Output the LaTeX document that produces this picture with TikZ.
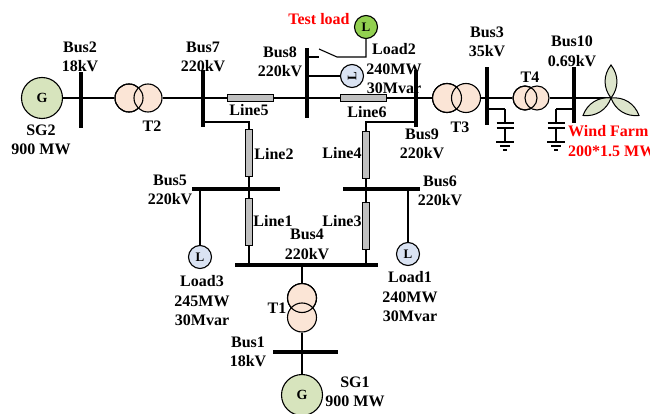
\documentclass[tikz,border=0pt]{standalone}
\usepackage{fontspec}
\setmainfont{Liberation Serif}
\usepackage{tikz}
\usetikzlibrary{calc}
\definecolor{genfill}{HTML}{D7E4BD}
\definecolor{testfill}{HTML}{92D050}
\definecolor{loadfill}{HTML}{DAE3F3}
\definecolor{xffill}{HTML}{FBE5D6}
\definecolor{linefill}{HTML}{C0C0C0}
\definecolor{bladefill}{HTML}{DDE5CC}
\definecolor{warn}{HTML}{FF0000}
\tikzset{
  wire/.style={draw=black, line width=1.1pt},
  vbus/.style={fill=black, inner sep=0pt, minimum width=3.8pt, minimum height=#1},
  hbus/.style={fill=black, inner sep=0pt, minimum height=3.8pt, minimum width=#1},
  gen/.style={circle, draw, line width=1.1pt, fill=genfill, minimum size=41pt, inner sep=0pt, font=\bfseries\fontsize{14}{14}\selectfont},
  xf/.style={circle, draw, line width=1.1pt, fill=xffill, minimum size=#1, inner sep=0pt},
  ld/.style={circle, draw, line width=1.1pt, fill=loadfill, minimum size=23pt, inner sep=0pt, font=\bfseries\fontsize{13}{13}\selectfont},
  hline/.style={rectangle, draw, line width=1pt, fill=linefill, minimum width=46pt, minimum height=7pt, inner sep=0pt},
  vline/.style={rectangle, draw, line width=1pt, fill=linefill, minimum width=7pt, minimum height=47pt, inner sep=0pt},
  lab/.style={font=\bfseries\fontsize{16}{19.5}\selectfont, align=center, inner sep=0pt},
  redlab/.style={lab, text=warn},
  blade/.style={draw, line width=1pt, fill=bladefill}
}
% outline of the first winding, redrawn over the second one
\newcommand{\WindingRim}[2]{%
  \draw[line width=1.1pt] (#1.center) circle[radius=#2];
}
% shunt capacitor with earth, hanging from a corner point
\newcommand{\ShuntCap}[1]{%
  \draw[wire] (#1) -- ++(0,14) ++(-8.5,0) -- ++(17,0) ++(-17,5) -- ++(17,0)
    ++(-8.5,0) -- ++(0,14) ++(-9,0) -- ++(18,0) ++(-14,4) -- ++(10,0) ++(-7,4) -- ++(4,0);
}

\begin{document}
\begin{tikzpicture}[x=1pt, y=-1pt]
  \useasboundingbox (0,0) rectangle (650,414);

  % main line
  \node[gen] (sg2) at (42,98) {G};
  \node[vbus=56pt] (bus2) at (81,100) {};
  \node[xf=28pt] (t2a) at (129,98) {};
  \node[xf=28pt] (t2b) at (148,98) {};
  \WindingRim{t2a}{14pt}
  \node[vbus=57pt] (bus7) at (203,98.5) {};
  \node[hline] (line5) at (250,98) {};
  \node[vbus=70pt] (bus8) at (307,83) {};
  \node[hline] (line6) at (363.5,98) {};
  \node[vbus=57pt] (bus9) at (416,98.5) {};
  \node[xf=29pt] (t3a) at (447,98) {};
  \node[xf=29pt] (t3b) at (466,98) {};
  \WindingRim{t3a}{14.5pt}
  \node[vbus=58pt] (bus3) at (487,96) {};
  \node[xf=24pt] (t4a) at (525,98) {};
  \node[xf=24pt] (t4b) at (537,98) {};
  \WindingRim{t4a}{12pt}
  \node[vbus=56pt] (bus10) at (574,95) {};
  \coordinate (hub) at (611,98);

  \draw[wire] (sg2) -- (t2a);
  \draw[wire] (t2b) -- (line5);
  \draw[wire] (line5) -- (line6);
  \draw[wire] (line6) -- (t3a);
  \draw[wire] (t3b) -- (t4a);
  \draw[wire] (t4b) -- (hub);

  % wind turbine
  \foreach \ang in {270,148,32}
    \draw[blade] (hub) to[bend left=38] ++(\ang:33) to[bend left=38] (hub);

  % shunt capacitors
  \coordinate (c3) at (505,109);
  \coordinate (c10) at (556,109);
  \draw[wire] (bus3 |- c3) -- (c3);
  \draw[wire] (bus10 |- c10) -- (c10);
  \ShuntCap{c3}
  \ShuntCap{c10}

  % test load and load 2 on bus 8
  \node[ld, fill=testfill] (testld) at (366,27) {L};
  \coordinate (swbase) at (319,57);
  \coordinate (swtip) at (319,49);
  \coordinate (swend) at (337,57);
  \draw[wire] (bus8 |- swbase) -- (swbase);
  \draw[wire] (swtip) -- (swend) -| (testld);
  \node[ld, rotate=90] (load2) at (352,76) {L};
  \draw[wire] (bus8 |- load2) -- (load2);

  % lower meshed part
  \node[vline] (line2) at (249,153.5) {};
  \node[vline] (line4) at (366,155.5) {};
  \coordinate (tap7) at (203,122);
  \coordinate (tap9) at (416,122);
  \draw[wire] (tap7) -| (line2);
  \draw[wire] (tap9) -| (line4);
  \node[hbus=88pt] (bus5) at (236,189) {};
  \node[hbus=77pt] (bus6) at (381.5,189) {};
  \node[vline] (line1) at (249,222) {};
  \node[vline] (line3) at (366,226) {};
  \node[hbus=143pt] (bus4) at (306.5,265) {};
  \draw[wire] (line2) -- (line1);
  \draw[wire] (line4) -- (line3);
  \draw[wire] (line1) -- (line1 |- bus4);
  \draw[wire] (line3) -- (line3 |- bus4);
  \node[ld] (load3) at (200,257) {L};
  \node[ld] (load1) at (408,254) {L};
  \draw[wire] (load3 |- bus5) -- (load3);
  \draw[wire] (load1 |- bus6) -- (load1);

  % T1, bus 1, SG1
  \node[xf=29pt] (t1a) at (302,298) {};
  \node[xf=29pt] (t1b) at (302,317.5) {};
  \WindingRim{t1a}{14.5pt}
  \node[hbus=65pt] (bus1) at (305.5,352) {};
  \node[gen] (sg1) at (302,395) {G};
  \draw[wire] (t1a |- bus4) -- (t1a);
  \draw[wire] (t1b) -- (sg1);

  % labels
  \node[lab] (bus2lab) at (80,57) {Bus2\\18kV};
  \node[lab] (bus7lab) at (203,57) {Bus7\\220kV};
  \node[lab] (bus8lab) at (280,62) {Bus8\\220kV};
  \node[lab] (bus9lab) at (422,144) {Bus9\\220kV};
  \node[lab] (bus3lab) at (487,42) {Bus3\\35kV};
  \node[lab] (bus10lab) at (572,51.5) {Bus10\\0.69kV};
  \node[lab] (bus5lab) at (170,190) {Bus5\\220kV};
  \node[lab] (bus6lab) at (440,191) {Bus6\\220kV};
  \node[lab] (bus4lab) at (307,244.5) {Bus4\\220kV};
  \node[lab] (bus1lab) at (248,352) {Bus1\\18kV};
  \node[lab] (t2lab) at (152,126) {T2};
  \node[lab] (t3lab) at (460,127) {T3};
  \node[lab] (t4lab) at (530,77) {T4};
  \node[lab] (t1lab) at (277,308) {T1};
  \node[lab] (line5lab) at (249,110) {Line5};
  \node[lab] (line6lab) at (367,112) {Line6};
  \node[lab] (line2lab) at (274,154) {Line2};
  \node[lab] (line4lab) at (342,153) {Line4};
  \node[lab] (line1lab) at (273,221) {Line1};
  \node[lab] (line3lab) at (342,221) {Line3};
  \node[lab] (sg2lab) at (41,140) {SG2\\900 MW};
  \node[lab] (sg1lab) at (355,392) {SG1\\900 MW};
  \node[lab] (load2lab) at (394,69) {Load2\\240MW\\30Mvar};
  \node[lab] (load3lab) at (202,301) {Load3\\245MW\\30Mvar};
  \node[lab] (load1lab) at (410,297) {Load1\\240MW\\30Mvar};
  \node[redlab] (testlab) at (319,19) {Test load};
  \node[redlab, anchor=west, align=left] (windlab) at (568,141) {Wind Farm\\200*1.5 MW};
\end{tikzpicture}
\end{document}
